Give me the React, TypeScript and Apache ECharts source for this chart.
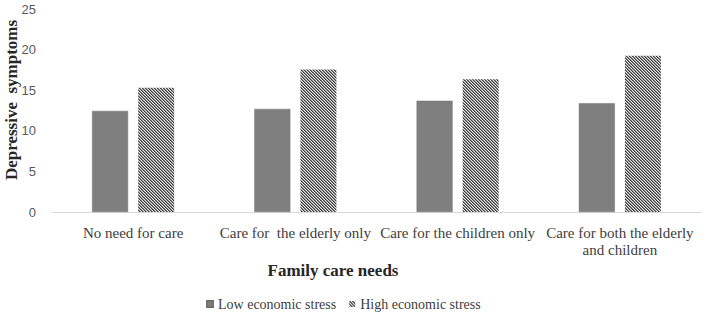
import React, { useEffect, useRef } from "react";
import * as echarts from "echarts";

const categories = [
  "No need for care",
  "Care for  the elderly only",
  "Care for the children only",
  "Care for both the elderly and children",
];
const categoryLabels = [
  "No need for care",
  "Care for  the elderly only",
  "Care for the children only",
  "Care for both the elderly\nand children",
];
const lowStress = [12.45, 12.7, 13.7, 13.4];
const highStress = [15.3, 17.55, 16.35, 19.25];
const yTicks = { min: 0, max: 25, interval: 5 };

function makeHatch(): string {
  const size = 3;
  const shades = ["#3f3f3f", "#8a8a8a", "#e2e2e2"];
  const c = document.createElement("canvas");
  c.width = size;
  c.height = size;
  const ctx = c.getContext("2d")!;
  for (let y = 0; y < size; y++) {
    for (let x = 0; x < size; x++) {
      const d = (((x - y) % size) + size) % size;
      ctx.fillStyle = shades[d];
      ctx.fillRect(x, y, 1, 1);
    }
  }
  return c.toDataURL();
}

export default function App() {
  const ref = useRef<HTMLDivElement>(null);
  useEffect(() => {
    document.body.style.margin = "0";
    if (!ref.current) return;
    const chart = echarts.init(ref.current, undefined, { renderer: "svg" });
    const hatch = { image: makeHatch(), repeat: "repeat" } as any;
    const serif = "'Liberation Serif', 'Times New Roman', serif";
    chart.setOption({
      animation: false,
      backgroundColor: "#ffffff",
      grid: { left: 52, right: 7, top: 9, bottom: 100, containLabel: false },
      legend: {
        left: 201,
        top: 292,
        icon: "rect",
        itemWidth: 6,
        itemHeight: 6,
        itemGap: 13,
        textStyle: { fontFamily: serif, fontSize: 14, color: "#404040" },
        data: ["Low economic stress", "High economic stress"],
      },
      xAxis: {
        type: "category",
        data: categories,
        axisLine: { lineStyle: { color: "#d9d9d9", width: 1 } },
        axisTick: { show: false },
        axisLabel: {
          interval: 0,
          margin: 12,
          fontFamily: serif,
          fontSize: 15,
          color: "#404040",
          lineHeight: 17,
          formatter: (_v: string, i: number) => categoryLabels[i],
        },
      },
      yAxis: {
        type: "value",
        min: yTicks.min,
        max: yTicks.max,
        interval: yTicks.interval,
        axisLine: { show: false },
        axisTick: { show: false },
        splitLine: { show: false },
        axisLabel: {
          margin: 16,
          fontFamily: "'Liberation Sans', Arial, sans-serif",
          fontSize: 13,
          color: "#595959",
        },
      },
      graphic: [
        {
          type: "text",
          x: 333,
          y: 270,
          style: {
            text: "Family care needs",
            fontFamily: serif,
            fontWeight: "bold",
            fontSize: 17,
            fill: "#262626",
            align: "center",
            verticalAlign: "middle",
          },
        },
        {
          type: "text",
          x: 11,
          y: 100,
          rotation: Math.PI / 2,
          style: {
            text: "Depressive  symptoms",
            fontFamily: serif,
            fontWeight: "bold",
            fontSize: 17,
            fill: "#262626",
            align: "center",
            verticalAlign: "middle",
          },
        },
      ],
      series: [
        {
          name: "Low economic stress",
          type: "bar",
          data: lowStress,
          barWidth: 36,
          barGap: "28%",
          itemStyle: { color: "#7f7f7f", borderColor: "#707070", borderWidth: 0.5 },
        },
        {
          name: "High economic stress",
          type: "bar",
          data: highStress,
          barWidth: 36,
          barGap: "28%",
          itemStyle: { color: hatch },
        },
      ],
    });
    return () => chart.dispose();
  }, []);
  return <div ref={ref} style={{ width: 708, height: 312 }} />;
}
